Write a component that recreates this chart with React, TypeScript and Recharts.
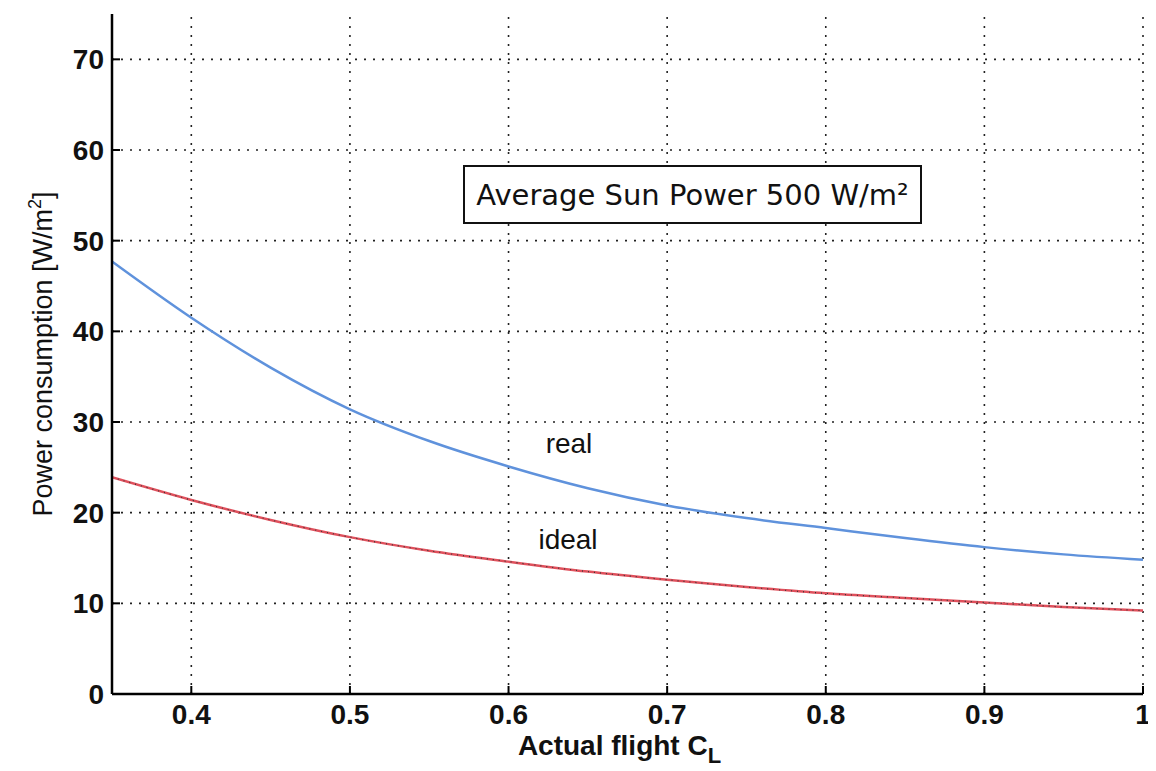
import { Label, Line, LineChart, ReferenceLine, XAxis, YAxis } from "recharts";

// lift coefficient samples
const cl = [0.35, 0.4, 0.45, 0.5, 0.55, 0.6, 0.65, 0.7, 0.75, 0.8, 0.85, 0.9, 0.95, 1.0];
// power consumption [W/m2]
const realPower = [47.7, 41.5, 36.0, 31.4, 27.9, 25.1, 22.7, 20.8, 19.4, 18.3, 17.2, 16.2, 15.4, 14.8];
const idealPower = [23.9, 21.4, 19.2, 17.3, 15.8, 14.6, 13.5, 12.6, 11.8, 11.1, 10.6, 10.1, 9.6, 9.2];

const xTicks = [0.4, 0.5, 0.6, 0.7, 0.8, 0.9, 1];
const yTicks = [0, 10, 20, 30, 40, 50, 60, 70];

const data = cl.map((c, i) => ({ cl: c, real: realPower[i], ideal: idealPower[i] }));

const font = "'Liberation Sans', Arial, sans-serif";
const gridStyle = { stroke: "#222", strokeWidth: 1.6, strokeDasharray: "2 7" };

function YTick({ x, y, payload }: any) {
  return (
    <g>
      <line x1={x} x2={x + 8} y1={y} y2={y} stroke="#000" strokeWidth={2} />
      <text x={x - 8} y={y} dy={10} textAnchor="end" fontFamily={font} fontWeight="bold" fontSize={28} fill="#111">
        {payload.value}
      </text>
    </g>
  );
}

function XTick({ x, y, payload }: any) {
  const v = payload.value;
  return (
    <g>
      <line x1={x} x2={x} y1={y} y2={y - 8} stroke="#000" strokeWidth={2} />
      <text x={x} y={y} dy={30} textAnchor="middle" fontFamily={font} fontWeight="bold" fontSize={28} fill="#111">
        {v === 1 ? "1" : v.toFixed(1)}
      </text>
    </g>
  );
}

function XLabel({ viewBox }: any) {
  const cx = viewBox.x + viewBox.width / 2;
  return (
    <text x={cx - 8} y={viewBox.y + 61} textAnchor="middle" fontFamily={font} fontWeight="bold" fontSize={28} fill="#111">
      Actual flight C
      <tspan fontSize={22} dy={8}>L</tspan>
    </text>
  );
}

function YLabel({ viewBox }: any) {
  const cy = viewBox.y + viewBox.height / 2;
  const x = 44;
  return (
    <text x={x} y={cy} transform={`rotate(-90 ${x} ${cy})`} textAnchor="middle" fontFamily={font} fontSize={27} fill="#111">
      Power consumption [W/m
      <tspan fontSize={18} dy={-11}>2</tspan>
      <tspan dy={11}>]</tspan>
    </text>
  );
}

export default function App() {
  return (
    <div style={{ position: "relative", width: 1148, height: 763, background: "#fff" }}>
      <LineChart width={1148} height={763} data={data} margin={{ top: 6, right: 13, bottom: 37, left: 44 }}>
        <XAxis
          dataKey="cl"
          type="number"
          domain={[0.35, 1]}
          ticks={xTicks}
          height={40}
          tickSize={0}
          tickMargin={0}
          tick={<XTick />}
          axisLine={{ stroke: "#000", strokeWidth: 2.5 }}
          allowDataOverflow
        >
          <Label content={<XLabel />} />
        </XAxis>
        <YAxis
          type="number"
          domain={[0, 75]}
          ticks={yTicks}
          width={60}
          tickSize={0}
          tickMargin={0}
          tick={<YTick />}
          axisLine={{ stroke: "#000", strokeWidth: 2.5 }}
          allowDataOverflow
        >
          <Label content={<YLabel />} />
        </YAxis>
        {xTicks.map((t) => (
          <ReferenceLine key={`gx${t}`} x={t} {...gridStyle} />
        ))}
        {yTicks.slice(1).map((t) => (
          <ReferenceLine key={`gy${t}`} y={t} {...gridStyle} />
        ))}
        <Line type="monotone" dataKey="real" stroke="#5f92dc" strokeWidth={2.5} dot={false} isAnimationActive={false} />
        <Line type="monotone" dataKey="ideal" stroke="#e0505c" strokeWidth={2.5} dot={false} isAnimationActive={false} />
        <Line type="monotone" dataKey="ideal" stroke="#333" strokeWidth={1.2} strokeDasharray="1 5" dot={false} isAnimationActive={false} />
      </LineChart>

      <div
        style={{
          position: "absolute",
          left: 455,
          top: 157,
          width: 455,
          height: 55,
          border: "2px solid #111",
          background: "#fff",
          display: "flex",
          alignItems: "center",
          justifyContent: "center",
          fontFamily: "'DejaVu Sans', Verdana, sans-serif",
          fontSize: 29,
          color: "#111",
          whiteSpace: "nowrap",
        }}
      >
        Average Sun Power 500 W/m²
      </div>
      <div style={{ position: "absolute", left: 530, top: 420, width: 62, textAlign: "center", fontFamily: font, fontSize: 28, color: "#111" }}>
        real
      </div>
      <div style={{ position: "absolute", left: 520, top: 516, width: 80, textAlign: "center", fontFamily: font, fontSize: 28, color: "#111" }}>
        ideal
      </div>
    </div>
  );
}
